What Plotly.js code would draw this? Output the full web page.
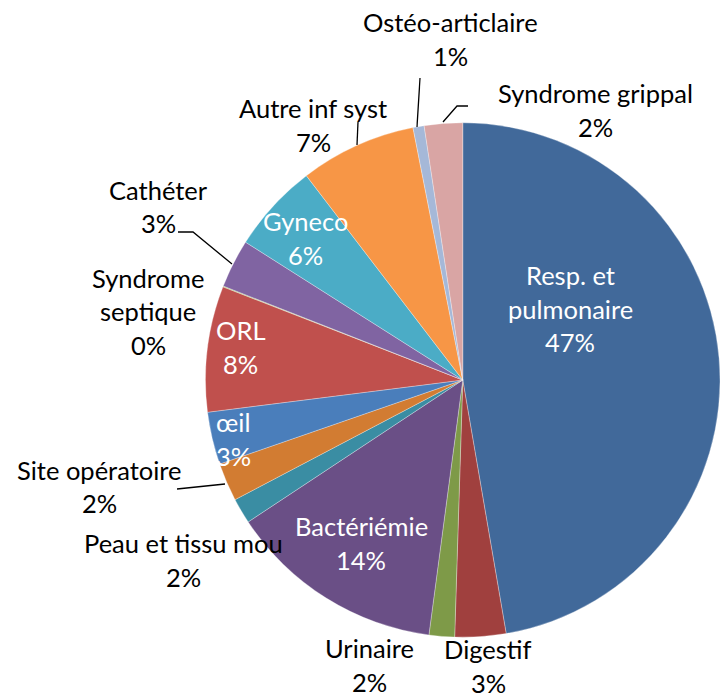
<!DOCTYPE html>
<html>
<head>
<meta charset="utf-8">
<script src="https://cdn.plot.ly/plotly-3.0.1.min.js"></script>
<style>html,body{margin:0;padding:0;background:#fff;}#chart{width:720px;height:698px;}</style>
</head>
<body>
<div id="chart"></div>
<script>
// ---- data ----
var categories = ["Resp. et pulmonaire","Digestif","Urinaire","Bactériémie","Peau et tissu mou","Site opératoire","œil","ORL","Syndrome septique","Cathéter","Gyneco","Autre inf syst","Ostéo-articlaire","Syndrome grippal"];
var displayLabels = ["Resp. et<br>pulmonaire","Digestif","Urinaire","Bactériémie","Peau et tissu mou","Site opératoire","œil","ORL","Syndrome<br>septique","Cathéter","Gyneco","Autre inf syst","Ostéo-articlaire","Syndrome grippal"];
var values = [47.3, 3.2, 1.6, 13.6, 1.6, 2.4, 3.3, 7.9, 0.05, 3.05, 5.6, 7.3, 0.7, 2.4];

// ---- styling (not data) ----
var colors = ["#41699A","#A0403E","#7E9A48","#6A4F86","#3A8DA3","#D27C32","#4A7EBB","#C0504D","#9BBB59","#8064A2","#4BACC6","#F79646","#A5B8D8","#D9A5A4"];
var insideLabel = [true,false,false,true,false,false,true,true,false,false,true,false,false,false];
// label anchor (center x, first-line y) in pixels
var labelPos = [[570,275],[488,649],[370,648],[361,526],[183,543],[99,470],[233,422],[240,330],[148,278],[158,190],[305,221],[313,108],[450,22],[595,93]];
var leaders = [
  "M417,127 L420,78",
  "M443,122 L457,106 L468,106",
  "M357,145 L358,122",
  "M232,264 L193,232 L178,232",
  "M225,484 L177,489"
];

var W = 720, H = 698;
var cx = 463, cy = 380, R = 257.5;
var total = values.reduce(function(a,b){return a+b;},0);

var annotations = [];
var lineH = 33.5;
categories.forEach(function(c,i){
  var lines = displayLabels[i].split("<br>");
  lines.push(Math.round(values[i]/total*100) + "%");
  lines.forEach(function(t,k){
    annotations.push({
      xref:"paper", yref:"paper",
      x: labelPos[i][0]/W, y: 1 - (labelPos[i][1] + k*lineH)/H,
      xanchor:"center", yanchor:"middle",
      text: t, showarrow:false,
      font:{family:"Lato, 'Open Sans', sans-serif", size:25.5, color: insideLabel[i] ? "#FFFFFF" : "#000000"}
    });
  });
});

var shapes = leaders.map(function(p){
  var conv = p.replace(/(\d+),(\d+)/g, function(m,x,y){
    return (x/W).toFixed(5) + "," + (1 - y/H).toFixed(5);
  });
  return {type:"path", xref:"paper", yref:"paper", path: conv, line:{color:"#000000", width:1.3}};
});

var trace = {
  type:"pie",
  labels: categories,
  values: values,
  sort:false,
  direction:"clockwise",
  rotation:0,
  textinfo:"none",
  hoverinfo:"label+percent",
  marker:{colors: colors, line:{color:"rgba(255,255,255,0.5)", width:0.6}},
  domain:{x:[(cx-R)/W,(cx+R)/W], y:[(H-cy-R)/H,(H-cy+R)/H]},
  showlegend:false
};

var layout = {
  width:W, height:H,
  margin:{l:0,r:0,t:0,b:0},
  paper_bgcolor:"#FFFFFF",
  showlegend:false,
  annotations: annotations,
  shapes: shapes
};

Plotly.newPlot("chart",[trace],layout,{displayModeBar:false, staticPlot:true});
</script>
</body>
</html>
